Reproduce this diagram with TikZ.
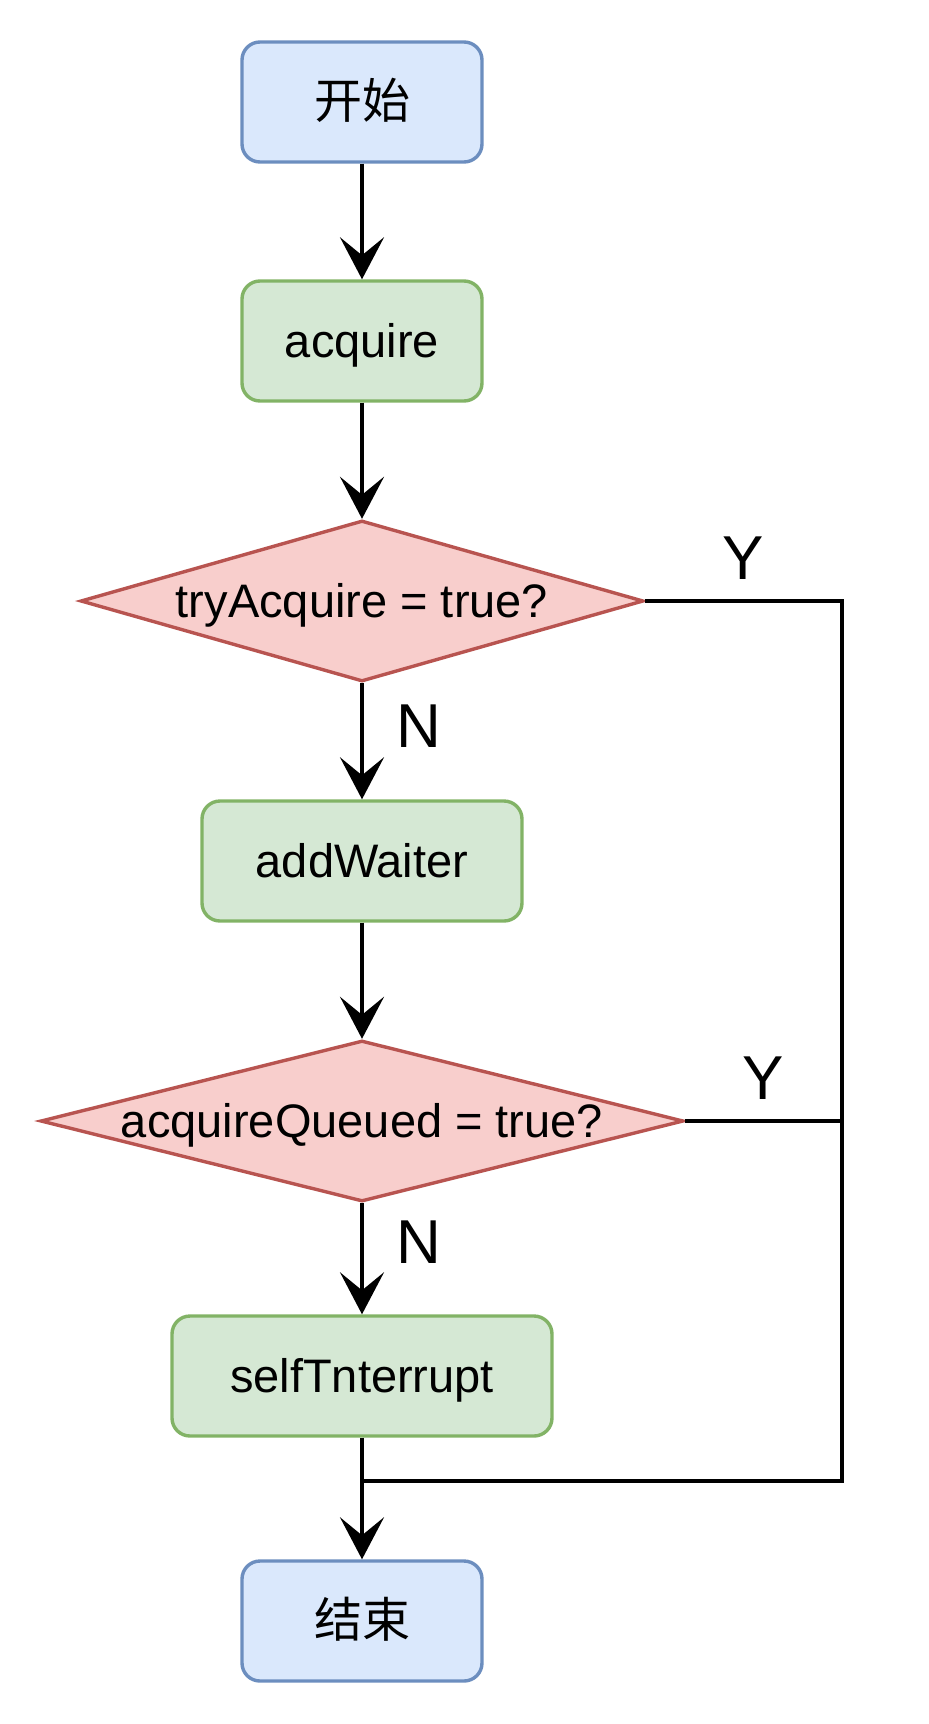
\documentclass[tikz,border=0pt]{standalone}
\usepackage{fontspec}
\setmainfont{Liberation Sans}
\newfontfamily\cjk{Noto Sans CJK SC}
\usetikzlibrary{shapes.geometric,arrows.meta}

\definecolor{bluefill}{HTML}{DAE8FC}
\definecolor{blueline}{HTML}{6C8EBF}
\definecolor{greenfill}{HTML}{D5E8D4}
\definecolor{greenline}{HTML}{82B366}
\definecolor{redfill}{HTML}{F8CECC}
\definecolor{redline}{HTML}{B85450}

\tikzset{
  box/.style={draw, rounded corners=9pt, line width=1.7pt, minimum height=60pt,
    text height=17pt, text depth=1pt, font=\fontsize{23.5}{28}\selectfont},
  terminal/.style={box, draw=blueline, fill=bluefill, minimum width=120pt,
    font=\cjk\fontsize{24}{28}\selectfont},
  process/.style={box, draw=greenline, fill=greenfill},
  decision/.style={diamond, draw=redline, fill=redfill, line width=1.7pt,
    inner sep=0pt, shape aspect=4, minimum height=80.5pt,
    text height=17pt, text depth=1pt, font=\fontsize{23.5}{28}\selectfont},
  link/.style={line width=2pt},
  flow/.style={link, -{Stealth[length=21pt,width=22pt,inset=9pt]}},
  yn/.style={inner sep=0pt, font=\fontsize{31}{36}\selectfont}
}

\begin{document}
\begin{tikzpicture}[x=0.5pt, y=-0.5pt]
        \useasboundingbox (0,0) rectangle (928,1724);

        \node[terminal] (start) at (362,102) {开始};
        \node[process, minimum width=120pt] (acq) at (362,341) {acquire};
        \node[decision, minimum width=281.5pt] (try) at (362,601) {tryAcquire = true?};
        \node[process, minimum width=160pt] (wait) at (362,861) {addWaiter};
        \node[decision, minimum width=321.5pt] (queued) at (362,1121) {acquireQueued = true?};
        \node[process, minimum width=190pt] (intr) at (362,1376) {selfTnterrupt};
        \node[terminal] (stop) at (362,1621) {结束};
        \coordinate (rail) at (842,1481);
        \coordinate (merge) at (362,1481);

        \draw[flow] (start) to (acq);
        \draw[flow] (acq) to (try);
        \draw[flow] (try) to node[yn, right=16pt, pos=0.37]{N} (wait);
        \draw[flow] (wait) to (queued);
        \draw[flow] (queued) to node[yn, right=16pt, pos=0.35]{N} (intr);
        \draw[flow] (intr) to (stop);

        % Y branches join the rail and come back above the end
        \draw[link] (try.east) -- node[yn, above=10pt]{Y} (try.east -| rail) -- (rail) -- (merge);
        \draw[link] (queued.east) -- node[yn, above=10pt]{Y} (queued.east -| rail);
      \end{tikzpicture}
\end{document}
